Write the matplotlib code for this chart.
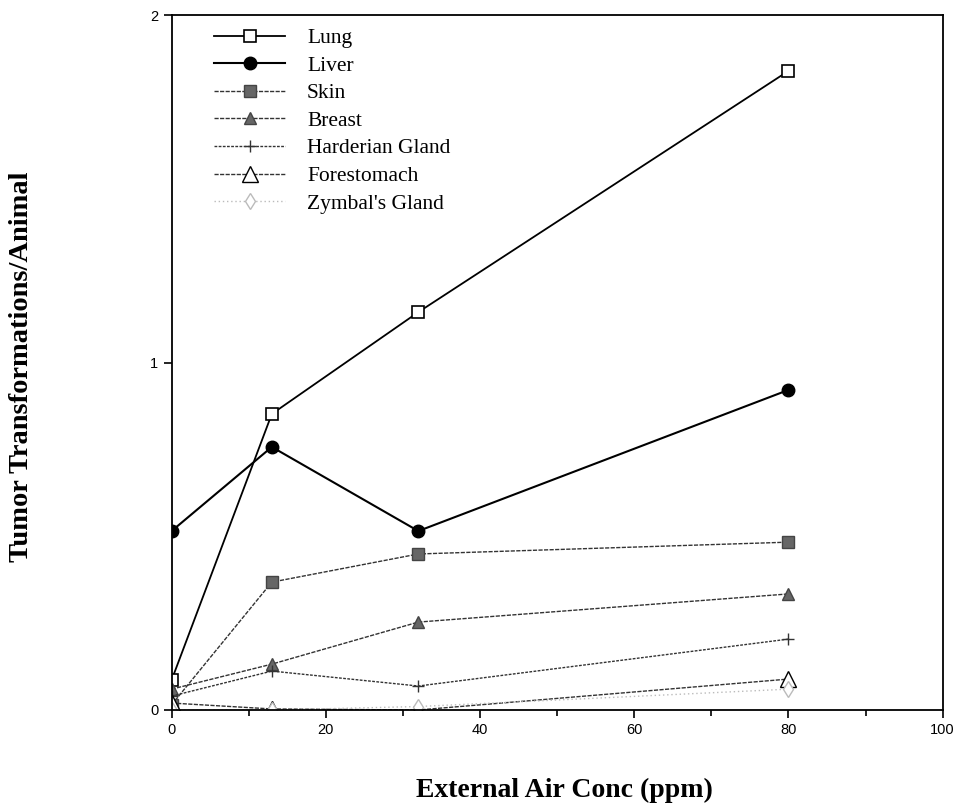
import matplotlib.pyplot as plt
from matplotlib.ticker import MultipleLocator

conc = [0, 13, 32, 80]
lung = [0.086, 0.852, 1.145, 1.839]
liver = [0.515, 0.757, 0.515, 0.921]
skin = [0.015, 0.368, 0.449, 0.483]
breast = [0.06, 0.132, 0.253, 0.334]
harderian = [0.04, 0.112, 0.069, 0.204]
forestomach = [0.02, 0.003, 0.0, 0.089]
zymbal = [0.0, 0.0, 0.01, 0.06]

fig = plt.figure(figsize=(9.56, 8.07), dpi=100)
ax = fig.add_axes([0.1795, 0.1202, 0.8065, 0.8612])

ax.plot(conc, lung, color='black', lw=1.3, marker='s', ms=9, mfc='white', mec='black', mew=1.2, label='Lung')
ax.plot(conc, liver, color='black', lw=1.5, marker='o', ms=9, mfc='black', mec='black', label='Liver')
ax.plot(conc, skin, color='#333333', lw=1.0, ls=(0, (3, 1)), marker='s', ms=8, mfc='#666666', mec='#444444', label='Skin')
ax.plot(conc, breast, color='#333333', lw=1.0, ls=(0, (3, 1)), marker='^', ms=8, mfc='#666666', mec='#444444', label='Breast')
ax.plot(conc, harderian, color='#333333', lw=1.0, ls=(0, (2, 1)), marker='+', ms=8, mec='#333333', label='Harderian Gland')
ax.plot(conc, forestomach, color='#333333', lw=1.0, ls=(0, (3, 1)), marker='^', ms=11, mfc='white', mec='black', label='Forestomach')
ax.plot(conc, zymbal, color='#bbbbbb', lw=1.0, ls=(0, (1, 2)), marker='d', ms=8, mfc='white', mec='#bbbbbb', label="Zymbal's Gland")

ax.set_xlim(0, 100)
ax.set_ylim(0, 2)
ax.xaxis.set_major_locator(MultipleLocator(20))
ax.xaxis.set_minor_locator(MultipleLocator(10))
ax.yaxis.set_major_locator(MultipleLocator(1))
ax.tick_params(axis='both', which='major', direction='out', length=6, labelsize=10.5, width=1.2)
ax.tick_params(axis='both', which='minor', direction='out', length=4, width=1.2)
for lab in ax.get_xticklabels() + ax.get_yticklabels():
    lab.set_fontfamily('Liberation Sans')
for sp in ax.spines.values():
    sp.set_linewidth(1.3)

fig.text(0.59, 0.021, 'External Air Conc (ppm)', ha='center', va='center',
         fontfamily='Liberation Serif', fontweight='bold', fontsize=20)
fig.text(0.023, 0.545, 'Tumor Transformations/Animal', ha='center', va='center', rotation=90,
         fontfamily='Liberation Serif', fontweight='bold', fontsize=20.5)

ax.legend(loc='upper left', bbox_to_anchor=(0.036, 1.003), frameon=False, handlelength=3.3,
          handletextpad=1.0, labelspacing=0.35, borderaxespad=0.3,
          prop={'family': 'Liberation Serif', 'size': 15.5})

fig.savefig('out.png', dpi=100)
